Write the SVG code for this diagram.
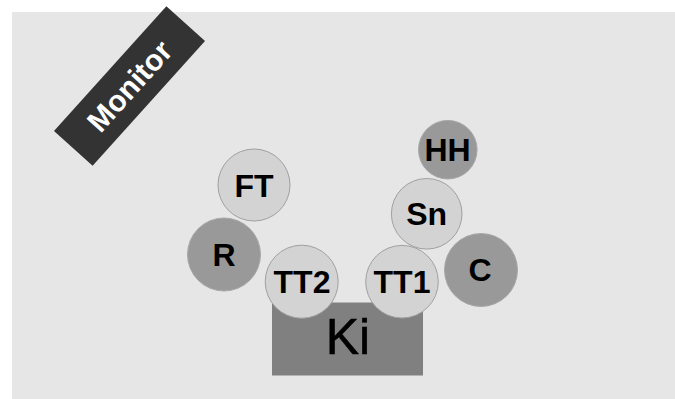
<svg xmlns="http://www.w3.org/2000/svg" width="675" height="399" viewBox="0 0 675 399">
<style>
.lbl{font-family:"Liberation Sans",Arial,sans-serif;font-weight:bold;font-size:32px;fill:#000;text-anchor:middle}
.light{fill:#d3d3d3;stroke:#a0a0a0;stroke-width:1}
.dark{fill:#999999;stroke:#a8a8a8;stroke-width:1}
</style>
<rect x="12" y="12" width="663" height="387" fill="#e6e6e6"/>
<g id="monitor" transform="translate(129.5,86) rotate(-48)">
<rect x="-84" y="-26" width="168" height="52" fill="#333333"/>
<text x="0" y="10.5" style="font-family:'Liberation Sans',Arial,sans-serif;font-weight:bold;font-size:30px;fill:#ffffff;text-anchor:middle">Monitor</text>
</g>
<g id="connectors"></g>
<g id="Ki">
<rect x="272" y="302.5" width="151" height="73" fill="#808080"/>
<text x="348" y="354" style="font-family:'Liberation Sans',Arial,sans-serif;font-size:50px;fill:#000;stroke:#000;stroke-width:0.6;text-anchor:middle">Ki</text>
</g>
<g id="FT"><circle class="light" cx="254" cy="185" r="36"/><text class="lbl" x="254" y="196.5">FT</text></g>
<g id="R"><circle class="dark" cx="224" cy="254.5" r="36.5"/><text class="lbl" x="224" y="266">R</text></g>
<g id="TT2"><circle class="light" cx="301.7" cy="281.7" r="36.5"/><text class="lbl" x="302" y="292.5">TT2</text></g>
<g id="TT1"><circle class="light" cx="402" cy="281.7" r="36.3"/><text class="lbl" x="402" y="292.5">TT1</text></g>
<g id="Sn"><circle class="light" cx="426.7" cy="213.8" r="35.3"/><text class="lbl" x="426.7" y="225">Sn</text></g>
<g id="HH"><circle class="dark" cx="447.8" cy="149.7" r="29.3"/><text class="lbl" x="447.5" y="161">HH</text></g>
<g id="C"><circle class="dark" cx="481" cy="270" r="36.5"/><text class="lbl" x="480" y="281">C</text></g>
</svg>
